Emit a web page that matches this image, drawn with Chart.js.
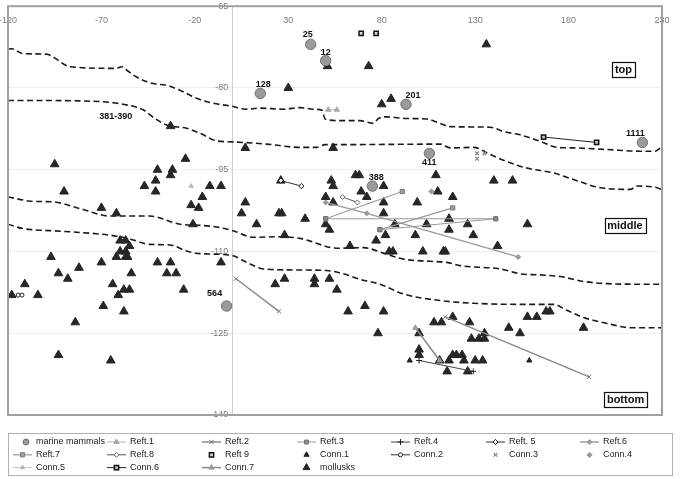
<!DOCTYPE html>
<html><head><meta charset="utf-8">
<script src="https://cdn.jsdelivr.net/npm/chart.js@4.4.1/dist/chart.umd.min.js"></script>
<style>html,body{margin:0;padding:0;background:#fff;}canvas{display:block;}</style>
</head><body>
<canvas id="c" width="680" height="479"></canvas>
<script>
// ---------- axis ticks ----------
const xTickValues = [-120, -70, -20, 30, 80, 130, 180, 230];
const yTickValues = [-65, -80, -95, -110, -125, -140];

// ---------- marine mammals ----------
const mammalX = [42, 50, 15, 93, 219.5, 105.5, 75, -3];
const mammalY = [-72, -75, -81, -83, -90, -92, -98, -120];
const mammalLabels = ['25', '12', '128', '201', '1111', '411', '388', '564'];

// ---------- mollusks ----------
const molluskX = [51,30,73,136,80,85,-33,7,54,-25,-95,-40,-32,-33,-41,-47,-41,-12,-6,-16,-22,-18,7,5,13,25,26.5,39,-21,28,-70,-62,-90,
  26,53,54,66,68,81,69,72,50,54,81,99,81,87,50,52,82,77,98,63,84,86,102,109,140,150,110,118,104,116,116,126,129,158,142,113,114,
  -60,-57,-55,-60,-57,-62,-57,-56,-97,-70,-40,-33,-6,-93,-82,-88,-54,-35,-30,-111,-64,-58,-55,-61,-26,-118,-104,-69,-58,-84,-93,-65,
  23,28,44,44,52,56,62,71,81,78,108,112,118,127,100,128,132,135,135,148,154,158,163,168,170,188,100,100,111,116,118,120,123,124,130,134,115,126];
const molluskY = [-76,-80,-76,-72,-83,-82,-87,-91,-91,-93,-94,-95,-95,-96,-97,-98,-99,-98,-98,-100,-101.5,-102,-101,-103,-105,-103,-103,-104,-105,-107,-102,-103,-99,
  -97,-97,-98,-96,-96,-98,-99,-100,-100,-101,-101,-101,-103,-105,-105,-106,-107,-108,-107,-109,-110,-110,-110,-96,-97,-97,-99,-100,-105,-104,-106,-105,-107,-105,-109,-110,-110,
  -108,-108,-109,-110,-110,-111,-111,-111,-111,-112,-112,-112,-112,-114,-113,-115,-114,-114,-114,-116,-116,-117,-117,-118,-117,-118,-118,-120,-121,-123,-129,-130,
  -116,-115,-115,-116,-115,-117,-121,-120,-121,-125,-123,-123,-122,-123,-125,-126,-126,-125,-126,-124,-125,-122,-122,-121,-121,-124,-128,-129,-130,-130,-129,-129,-129,-130,-130,-130,-132,-132];

// ---------- other series (null = break between segments) ----------
const reft1X = [51.4, 56];           const reft1Y = [-84, -84];
const reft2X = [2, 25, null, 114, 191]; const reft2Y = [-115, -121, null, -122, -133];
const reft3X = [50, 141, null, 79, 141]; const reft3Y = [-104, -104, null, -106, -104];
const reft4X = [100, 129];           const reft4Y = [-130, -132];
const reft5X = [26, 37];             const reft5Y = [-97, -98];
const reft6X = [50, 72, 153];        const reft6Y = [-101, -103, -111];
const reft7X = [50, 91, null, 79, 118]; const reft7Y = [-104, -99, null, -106, -102];
const reft8X = [59, 67];             const reft8Y = [-100, -101];
const reft9X = [69, 77];             const reft9Y = [-70, -70];
const conn1X = [95, 159];            const conn1Y = [-130, -130];
const conn2X = [-114.5, -112.5];     const conn2Y = [-118, -118];
const conn3X = [131, 135, 131];      const conn3Y = [-92, -92, -93];
const conn4X = [106.6];              const conn4Y = [-99];
const conn5X = [-22];                const conn5Y = [-98];
const conn6X = [166.6, 195];         const conn6Y = [-89, -90];
const conn7X = [98, 111];            const conn7Y = [-124, -130];

// ---------- boundary lines (dashed) ----------
const boundAX = [-120,-118,-112,-99.4,-95.9,-86.9,-61.9,-59.2,-56.6,-51.2,-42.3,-35.1,-26.2,-19.1,-10.2,0.5,6.8,14.8,27.3,36.3,43.4,48.1,49.7,57.7,68.4,75.5,78.2,82.7,93.4,104.1,111.3,116.6,138,145.2,154.1,164.8,173.8,182.7,200.6,218.4,226.4,229.5];
const boundAY = [-72.9,-72.8,-73.7,-73.8,-74.3,-76.1,-76.4,-76.1,-76.7,-78,-79.2,-79.5,-80.7,-81.9,-82.8,-83.4,-83.9,-83.7,-83.9,-83.6,-83.9,-84.1,-85.7,-86,-86,-86.5,-85.6,-85.3,-85.6,-85.7,-86.5,-87.1,-87.2,-88,-88.6,-89.8,-90.9,-91,-91.3,-91.6,-91.6,-90.9];
const boundBX = [-120,-106.6,-70.9,-56.6,-47.7,-41.4,-35.1,-24.4,-17.3,-8.4,0.5,18.4,36.3,45.2,49.7,57.7,111.3,116.6,129.1,138,147,157.7,172,182.7,197,213.1,216.6,227.4,229.5];
const boundBY = [-82.3,-82.3,-82.5,-83.1,-84,-85.6,-86.8,-87.4,-88.3,-89.7,-89.9,-90.3,-90.9,-90.9,-90.4,-90.4,-90.3,-91,-90.9,-92.2,-93.5,-94.7,-95.6,-96.8,-98.3,-98.6,-98,-98.3,-98.6];
const boundCX = [-120,-106.6,-95.9,-79.8,-65.5,-44.1,-28,-17.3,-6.6,0.5,11.2,25.6,36.3,41.6,55.9,70.2,80.9,91.6,105.9,114.9,122,143.4,154.1,164.8,175.5,188,200.6,218.4,229.5];
const boundCY = [-100,-100.8,-100.9,-102.3,-103.5,-103.5,-105,-105.2,-105.6,-106.2,-107.4,-107.3,-107.6,-108.1,-109.4,-109.3,-110.3,-111.4,-111.8,-112,-112.6,-113.2,-114.1,-114.3,-114.6,-115.5,-115.9,-116,-116];
const boundDX = [-120,-112,-95.9,-70.9,-61.9,-53,-44.1,-33.4,-24.4,-17.3,-8.4,0.5,9.5,16.6,36.3,50.6,59.5,68.4,79.1,91.6,111.3,129.1,154.1,172,179.1,188,200.6,213.1,229.5];
const boundDY = [-105,-105.8,-106.2,-106.8,-107.2,-107.9,-108.7,-108.8,-109.9,-110.4,-110.5,-110.8,-112.3,-113.2,-113.4,-113.5,-114.1,-115.1,-116,-117.8,-119,-119.5,-119.7,-119.7,-120.8,-122.1,-123.2,-124,-124];

// ---------- text annotations ----------
const noteTexts = ['381-390', 'top', 'middle', 'bottom'];
const noteX = [-62.3, 209.4, 210.2, 210.5];
const noteY = [-85.1, -76.6, -105.3, -137.2];
const noteBoxed = [false, true, true, true];

const FONT = "'Liberation Sans', Arial, sans-serif";
const zip = (xs, ys) => xs.map((x, i) => ({x: x, y: ys[i]}));

function series(label, xs, ys, o) {
  return Object.assign({
    label: label, data: zip(xs, ys), showLine: false, spanGaps: false,
    borderWidth: 1, pointBorderWidth: 1, inLegend: true
  }, o);
}
function bound(xs, ys) {
  return {label: '_bound', data: zip(xs, ys), showLine: true, inLegend: false,
    borderColor: '#1a1a1a', borderWidth: 1.6, borderDash: [6, 3.5], pointRadius: 0,
    cubicInterpolationMode: 'monotone', fill: false, order: 50};
}

const datasets = [
  series('marine mammals', mammalX, mammalY, {pointStyle: 'circle', pointRadius: 5.2, pointBackgroundColor: '#9a9a9a', pointBorderColor: '#707070', order: 5}),
  series('Reft.1', reft1X, reft1Y, {showLine: true, borderColor: '#b0b0b0', pointStyle: 'triangle', pointRadius: 3, pointBackgroundColor: '#a8a8a8', pointBorderColor: '#a8a8a8'}),
  series('Reft.2', reft2X, reft2Y, {showLine: true, borderColor: '#8a8a8a', borderWidth: 1.5, pointStyle: 'crossRot', pointRadius: 3, pointBackgroundColor: '#777', pointBorderColor: '#777'}),
  series('Reft.3', reft3X, reft3Y, {showLine: true, borderColor: '#999', pointStyle: 'rect', pointRadius: 2.8, pointBackgroundColor: '#8c8c8c', pointBorderColor: '#777'}),
  series('Reft.4', reft4X, reft4Y, {showLine: true, borderColor: '#444', pointStyle: 'cross', pointRadius: 3, pointBackgroundColor: '#222', pointBorderColor: '#222'}),
  series('Reft. 5', reft5X, reft5Y, {showLine: true, borderColor: '#333', pointStyle: 'rectRot', pointRadius: 2.6, pointBackgroundColor: '#fff', pointBorderColor: '#111'}),
  series('Reft.6', reft6X, reft6Y, {showLine: true, borderColor: '#999', borderWidth: 1.4, pointStyle: 'rectRot', pointRadius: 2.5, pointBackgroundColor: '#999', pointBorderColor: '#999'}),
  series('Reft.7', reft7X, reft7Y, {showLine: true, borderColor: '#9a9a9a', borderWidth: 1.2, pointStyle: 'rect', pointRadius: 3, pointBackgroundColor: '#a0a0a0', pointBorderColor: '#7a7a7a'}),
  series('Reft.8', reft8X, reft8Y, {showLine: true, borderColor: '#555', pointStyle: 'rectRot', pointRadius: 2.5, pointBackgroundColor: '#fff', pointBorderColor: '#666'}),
  series('Reft 9', reft9X, reft9Y, {pointStyle: 'rect', pointRadius: 3, pointBackgroundColor: '#d8d8d8', pointBorderColor: '#111', pointBorderWidth: 1.5}),
  series('Conn.1', conn1X, conn1Y, {pointStyle: 'triangle', pointRadius: 3, pointBackgroundColor: '#222', pointBorderColor: '#222'}),
  series('Conn.2', conn2X, conn2Y, {showLine: true, borderColor: '#333', pointStyle: 'circle', pointRadius: 2, pointBackgroundColor: '#fff', pointBorderColor: '#222'}),
  series('Conn.3', conn3X, conn3Y, {pointStyle: 'crossRot', pointRadius: 2.6, pointBackgroundColor: '#8a8a8a', pointBorderColor: '#8a8a8a', pointBorderWidth: 1.3}),
  series('Conn.4', conn4X, conn4Y, {pointStyle: 'rectRot', pointRadius: 2.6, pointBackgroundColor: '#999', pointBorderColor: '#999'}),
  series('Conn.5', conn5X, conn5Y, {showLine: true, borderColor: '#c8c8c8', pointStyle: 'triangle', pointRadius: 2.5, pointBackgroundColor: '#b8b8b8', pointBorderColor: '#b8b8b8'}),
  series('Conn.6', conn6X, conn6Y, {showLine: true, borderColor: '#222', pointStyle: 'rect', pointRadius: 3, pointBackgroundColor: '#c0c0c0', pointBorderColor: '#111', pointBorderWidth: 1.5}),
  series('Conn.7', conn7X, conn7Y, {showLine: true, borderColor: '#8a8a8a', borderWidth: 1.5, pointStyle: 'triangle', pointRadius: 3, pointBackgroundColor: '#999', pointBorderColor: '#999'}),
  series('mollusks', molluskX, molluskY, {pointStyle: 'triangle', pointRadius: 5, pointBackgroundColor: '#262626', pointBorderColor: '#262626', order: 10}),
  bound(boundAX, boundAY), bound(boundBX, boundBY), bound(boundCX, boundCY), bound(boundDX, boundDY)
];

// label offsets (pixels) relative to each circle
const mammalLabelDx = [-3, 0, 3, 7, -7, 0, 4, -12];
const mammalLabelDy = [-10, -8.5, -8.5, -9, -9, 9, -9, -12];

function drawMarker(ctx, ds, x, y, r) {
  ctx.save();
  ctx.fillStyle = ds.pointBackgroundColor;
  ctx.strokeStyle = ds.pointBorderColor;
  ctx.lineWidth = ds.pointBorderWidth || 1;
  ctx.setLineDash([]);
  Chart.helpers.drawPoint(ctx, {pointStyle: ds.pointStyle, radius: r, rotation: 0, borderWidth: ctx.lineWidth}, x, y);
  ctx.restore();
}

const overlay = {
  id: 'overlay',
  beforeDatasetsDraw(chart) {
    // axis tick labels, placed from the scales
    const ctx = chart.ctx, xs = chart.scales.x, ys = chart.scales.y;
    ctx.save();
    ctx.font = '9px ' + FONT;
    ctx.fillStyle = '#7a7a7a';
    ctx.textAlign = 'center'; ctx.textBaseline = 'middle';
    const yTop = ys.getPixelForValue(ys.max);
    xTickValues.forEach(v => ctx.fillText(String(v), xs.getPixelForValue(v), yTop + 14));
    ctx.textAlign = 'right';
    const x0 = xs.getPixelForValue(0);
    yTickValues.forEach(v => ctx.fillText(String(v), x0 - 4, ys.getPixelForValue(v)));
    ctx.restore();
  },
  afterDatasetsDraw(chart) {
    const ctx = chart.ctx, xs = chart.scales.x, ys = chart.scales.y;
    ctx.save();
    ctx.font = 'bold 9px ' + FONT;
    ctx.fillStyle = '#111';
    ctx.textAlign = 'center'; ctx.textBaseline = 'middle';
    mammalLabels.forEach((t, i) => {
      ctx.fillText(t, xs.getPixelForValue(mammalX[i]) + mammalLabelDx[i], ys.getPixelForValue(mammalY[i]) + mammalLabelDy[i]);
    });
    noteTexts.forEach((t, i) => {
      const px = xs.getPixelForValue(noteX[i]), py = ys.getPixelForValue(noteY[i]);
      ctx.font = (noteBoxed[i] ? 'bold 11px ' : 'bold 9px ') + FONT;
      if (noteBoxed[i]) {
        const w = Math.round(ctx.measureText(t).width + 6), h = 15;
        const bx = Math.round(px - w / 2) + 0.5, by = Math.round(py - h / 2) + 0.5;
        ctx.fillStyle = '#fff';
        ctx.fillRect(bx, by, w, h);
        ctx.strokeStyle = '#111'; ctx.lineWidth = 1.2;
        ctx.strokeRect(bx, by, w, h);
      }
      ctx.fillStyle = '#111';
      ctx.fillText(t, px, py + 0.5);
    });
    ctx.restore();
  },
  afterDraw(chart) {
    const ctx = chart.ctx, a = chart.chartArea;
    ctx.save();
    ctx.strokeStyle = '#a0a0a0'; ctx.lineWidth = 2;
    ctx.strokeRect(a.left, a.top, a.right - a.left, a.bottom - a.top);
    // legend
    ctx.strokeStyle = '#b0b0b0'; ctx.lineWidth = 1;
    ctx.strokeRect(8.5, 433.5, 664, 42);
    const colText = [36, 130, 225, 320, 414, 509, 603];
    ctx.font = '9px ' + FONT;
    ctx.textBaseline = 'middle'; ctx.textAlign = 'left';
    let k = 0;
    chart.data.datasets.forEach(ds => {
      if (!ds.inLegend) return;
      const row = Math.floor(k / 7), col = k % 7;
      k++;
      const tx = colText[col], ty = 442 + row * 12.8;
      if (ds.showLine) {
        ctx.strokeStyle = ds.borderColor; ctx.lineWidth = ds.borderWidth || 1;
        ctx.beginPath(); ctx.moveTo(tx - 23, ty); ctx.lineTo(tx - 4, ty); ctx.stroke();
      }
      const r = Math.min(ds.pointRadius, ds.label === 'mollusks' ? 4 : 3);
      drawMarker(ctx, ds, ds.label === 'marine mammals' ? tx - 10 : tx - 13.5, ty, r);
      ctx.fillStyle = '#222';
      ctx.fillText(ds.label, tx, ty);
    });
    ctx.restore();
  }
};

const zeroPad = s => { s.paddingLeft = 0; s.paddingRight = 0; s.paddingTop = 0; s.paddingBottom = 0; };

new Chart(document.getElementById('c'), {
  type: 'scatter',
  data: {datasets: datasets},
  options: {
    responsive: false, animation: false,
    layout: {padding: {left: 8, top: 4, right: 18, bottom: 64}},
    plugins: {legend: {display: false}, tooltip: {enabled: false}},
    scales: {
      x: {
        type: 'linear', min: -120, max: 230, position: {y: -65},
        afterBuildTicks: s => { s.ticks = xTickValues.map(v => ({value: v})); },
        afterFit: zeroPad,
        grid: {display: false, drawTicks: false},
        border: {display: false},
        ticks: {display: false}
      },
      y: {
        type: 'linear', min: -140, max: -65, position: {x: 0},
        afterBuildTicks: s => { s.ticks = yTickValues.map(v => ({value: v})); },
        afterFit: zeroPad,
        grid: {color: '#eeeeee', drawTicks: false, lineWidth: 1},
        border: {display: true, color: '#d0d0d0', width: 1},
        ticks: {display: false}
      }
    }
  },
  plugins: [overlay]
});
</script>
</body></html>
